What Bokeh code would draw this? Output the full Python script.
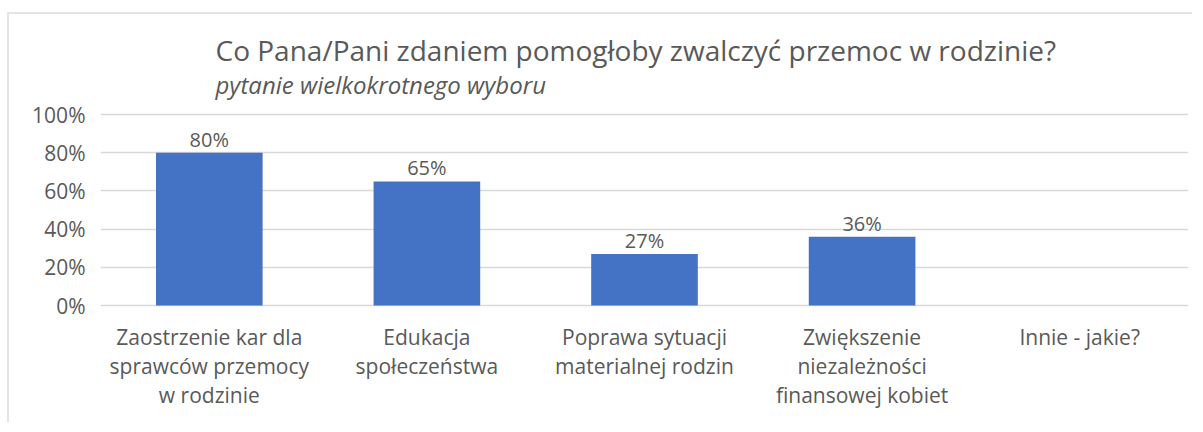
from bokeh.plotting import figure
from bokeh.models import ColumnDataSource, LabelSet, Label, FixedTicker, PrintfTickFormatter, FactorRange, Range1d
from bokeh.core.properties import value
from bokeh.embed import file_html
from bokeh.resources import INLINE

categories = [
    "Zaostrzenie kar dla\nsprawców przemocy\nw rodzinie",
    "Edukacja\nspołeczeństwa",
    "Poprawa sytuacji\nmaterialnej rodzin",
    "Zwiększenie\nniezależności\nfinansowej kobiet",
    "Innie - jakie?",
]
values = [80, 65, 27, 36, 0]
y_ticks = [0, 20, 40, 60, 80, 100]
title_text = "Co Pana/Pani zdaniem pomogłoby zwalczyć przemoc w rodzinie?"
subtitle_text = "pytanie wielkokrotnego wyboru"

FONT = "Open Sans"
TXT = "#595959"
BAR = "#4472C4"
GRID = "#d9d9d9"

Y0, Y1 = -62.3, 152.4
PX = (Y1 - Y0) / 410.0  # data units per pixel

p = figure(
    x_range=FactorRange(*categories, range_padding=0),
    y_range=Range1d(Y0, Y1),
    width=1185, height=410,
    output_backend="svg", toolbar_location=None,
    min_border_left=91, min_border_right=6, min_border_top=0, min_border_bottom=0,
    margin=(12, 0, 0, 7),
    styles={"border-left": "2px solid #e4e4e4", "border-top": "2px solid #e4e4e4"},
)
p.outline_line_color = None
p.background_fill_color = "white"
p.border_fill_color = "white"

src = ColumnDataSource(dict(
    cat=categories,
    val=values,
    lbl=[f"{v}%" if v > 0 else "" for v in values],
))
p.vbar(x="cat", top="val", width=0.49, source=src, fill_color=BAR, line_color=None)

# category labels, one row per line so every line is centred
line_cat, line_txt, line_y = [], [], []
for c in categories:
    for i, t in enumerate(c.split("\n")):
        line_cat.append(c)
        line_txt.append(t)
        line_y.append(-9 - i * 29 * PX)
lines = ColumnDataSource(dict(cat=line_cat, txt=line_txt, y=line_y))

p.xaxis.visible = False
p.xgrid.grid_line_color = None
p.ygrid.grid_line_color = GRID
p.ygrid.grid_line_width = 1.5
p.yaxis.ticker = FixedTicker(ticks=y_ticks)
p.yaxis.formatter = PrintfTickFormatter(format="%d%%")
p.yaxis.axis_line_color = None
p.yaxis.major_tick_line_color = None
p.yaxis.minor_tick_line_color = None
p.yaxis.major_label_standoff = 9
p.yaxis.major_label_text_font = FONT
p.yaxis.major_label_text_font_size = "21px"
p.yaxis.major_label_text_color = TXT

p.add_layout(LabelSet(x="cat", y="val", text="lbl", source=src, y_offset=6,
                      text_align="center", text_baseline="alphabetic",
                      text_font=value(FONT), text_font_size=value("20px"), text_color=TXT))
p.add_layout(LabelSet(x="cat", y="y", text="txt", source=lines,
                      text_align="center", text_baseline="top",
                      text_font=value(FONT), text_font_size=value("21px"), text_color=TXT))

p.add_layout(Label(x=0.5285, y=134.0, text=title_text, text_font=FONT,
                   text_font_size="28px", text_color=TXT, text_baseline="alphabetic"))
p.add_layout(Label(x=0.5285, y=116.0, text=subtitle_text, text_font=FONT,
                   text_font_style="italic", text_font_size="24px", text_color=TXT,
                   text_baseline="alphabetic"))

open("out.html", "w").write(file_html(p, INLINE))
